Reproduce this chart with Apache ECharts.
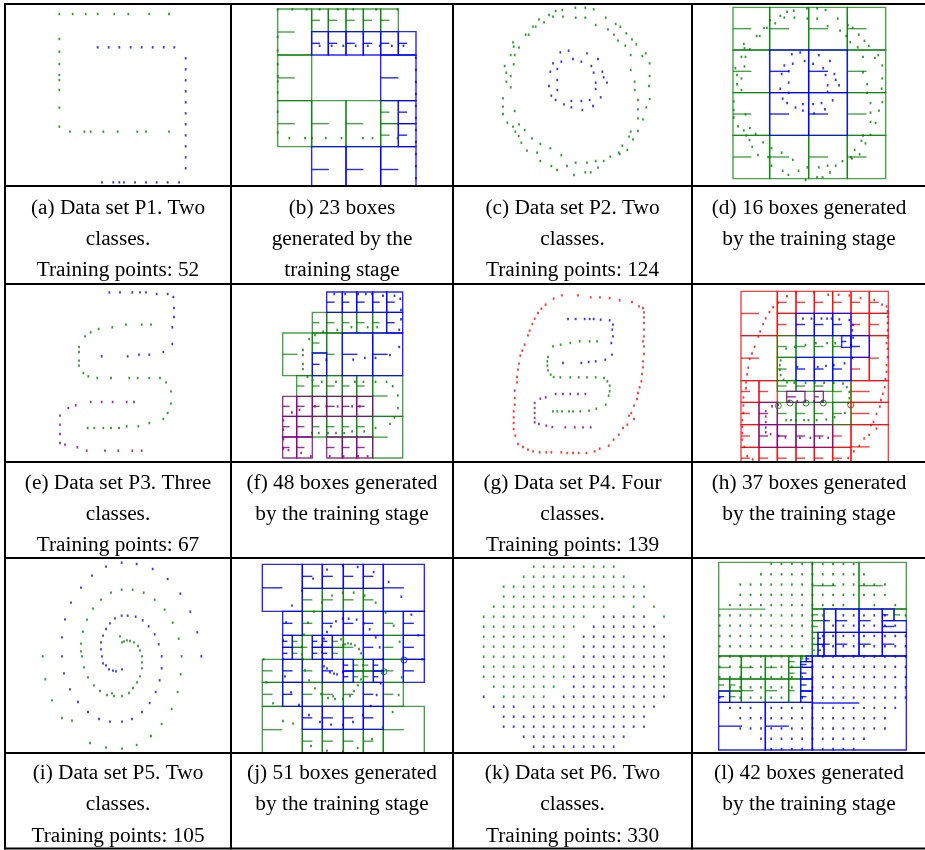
<!DOCTYPE html>
<html><head><meta charset="utf-8">
<script src="https://cdn.jsdelivr.net/npm/echarts@6.0.0/dist/echarts.min.js"></script>
<style>html,body{margin:0;padding:0;background:#fff}#c{width:925px;height:850px}</style>
</head><body><div id="c"></div><script>
// ---------- DATA (units: arbitrary plot units) ----------
// P1
const P1_green = [[178,42],[218,42],[257,42],[293,42],[343,42],[385,42],[448,42],[507,42],
 [178,117],[178,155],[178,192],[178,225],[178,240],[178,270],[178,323],[178,380],
 [210,395],[253,395],[272,395],[310,395],[353,395],[412,395],[438,395],[507,395]];
const P1_blue = [[293,142],[326,142],[358,142],[392,142],[425,142],[458,142],[491,142],[523,142],
 [557,175],[557,208],[557,241],[557,274],[557,307],[557,340],[557,373],[557,406],[557,439],[557,472],[557,505],
 [306,547],[340,547],[358,547],[372,547],[405,547],[438,547],[470,547],[503,547],[537,547]];
const B1_green = [[833,27,935,165],[935,27,985,95],[985,27,1038,95],[1038,27,1090,95],[1090,27,1142,95],[1142,27,1195,95],
 [833,165,935,302],[833,302,935,440],[935,302,1038,440],[1038,302,1142,440],[1142,302,1195,371],[1142,371,1195,440]];
const B1_blue = [[935,95,985,165],[985,95,1038,165],[1038,95,1090,165],[1090,95,1142,165],[1142,95,1195,165],[1195,95,1248,165],
 [1142,165,1248,302],[1195,302,1248,371],[1195,371,1248,440],[935,440,1038,577],[1038,440,1142,577],[1142,440,1248,577]];

// P2
const P2_green = [[337,23],[367,23],[392,28],[278,33],[298,30],[258,45],[270,50],[300,50],[338,53],[367,53],[428,53],[228,58],[243,67],[210,80],[218,80],[398,75],[458,72],[472,80],[435,88],[188,104],[197,104],[453,104],[490,100],[465,122],[507,118],[150,127],[152,140],[168,143],[487,137],[520,133],[143,165],[155,165],[503,165],[548,160],[538,168],[125,198],[152,193],[560,190],[130,218],[143,228],[503,210],[560,228],[130,245],[143,262],[515,245],[558,258],[515,270],[120,295],[525,300],[560,297],[120,320],[155,333],[525,328],[550,322],[120,342],[525,355],[540,358],[133,368],[150,380],[168,373],[157,395],[185,390],[503,395],[525,393],[167,408],[207,415],[498,410],[510,418],[175,428],[232,432],[262,445],[478,437],[493,450],[192,452],[222,458],[295,466],[467,458],[470,462],[442,470],[232,483],[398,483],[422,483],[372,488],[338,488],[265,498],[312,498],[405,503],[282,510],[383,517],[367,517],[333,525]];
const P2_blue = [[292,157],[317,152],[372,160],[330,177],[355,185],[405,177],[270,190],[295,185],[385,198],[262,215],[283,207],[392,218],[418,215],[422,232],[283,240],[398,248],[432,248],[258,258],[283,270],[398,267],[265,287],[278,300],[413,292],[325,303],[355,303],[380,300],[303,313],[325,322],[358,330],[390,318]];
const B2_green = [[810,22,920,150],[920,22,1037,150],[1037,22,1153,150],[1153,22,1268,150],[810,150,920,278],[1153,150,1268,278],
 [810,278,920,406],[1153,278,1268,406],[810,406,920,536],[920,406,1037,536],[1037,406,1153,536],[1153,406,1268,536]];
const B2_blue = [[920,150,1037,278],[1037,150,1153,278],[920,278,1037,406],[1037,278,1153,406]];

// P3
const P3_blue = [[328,28],[360,28],[397,28],[420,28],[438,28],[470,33],[503,33],[520,42],[522,75],[522,102],[517,133],[517,183],[490,207],[448,215],[417,215],[383,220],[305,220]];
const P3_green = [[378,125],[425,125],[453,125],[337,133],[296,138],[272,148],[255,160],[237,192],[237,207],[237,233],[237,248],[250,270],[265,280],[292,285],[333,285],[388,285],[413,285],[448,285],[480,285],[498,298],[513,325],[513,362],[503,390],[490,408],[448,420],[415,430],[380,430],[357,435],[333,435],[310,435],[283,435],[263,435]];
const P3_purple = [[272,357],[305,357],[338,357],[380,357],[402,357],[227,367],[205,375],[180,398],[180,425],[180,453],[180,480],[195,485],[232,493],[260,503],[315,503],[355,503],[397,503],[425,503]];
const B3_green = [[937,88,980,150],[980,88,1027,150],[1027,88,1070,150],[1070,88,1118,150],[1118,88,1160,150],[848,150,937,278],[937,150,980,210],[980,150,1027,278],
 [890,278,937,340],[937,278,980,340],[980,278,1027,340],[1027,278,1070,340],[1070,278,1118,340],[1118,278,1208,400],
 [937,400,980,462],[980,400,1027,462],[1027,400,1070,462],[1070,400,1118,462],[1118,400,1208,525]];
const B3_purple = [[848,340,890,400],[890,340,937,400],[937,340,980,400],[980,340,1027,400],[1027,340,1070,400],[1070,340,1118,400],
 [848,400,890,462],[890,400,937,462],[848,462,890,525],[890,462,937,525],[980,462,1027,525],[1027,462,1070,525],[1070,462,1118,525]];
const B3_blue = [[980,27,1027,88],[1027,27,1070,88],[1070,27,1118,88],[1118,27,1160,88],[1160,27,1208,88],[1160,88,1208,150],[937,210,980,278],[1027,150,1118,278],[1118,150,1208,278]];

// P4
const P4_red = [[297,37],[345,37],[383,43],[411,43],[440,45],[470,52],[507,57],[528,70],[540,75],[272,47],[248,65],[235,77],[225,90],[215,107],[208,123],[200,143],[195,157],[185,185],[178,203],[172,218],[168,242],[165,260],[162,282],[162,298],[155,323],[155,345],[155,365],[152,385],[152,403],[152,420],[152,438],[157,458],[165,483],[180,492],[195,500],[210,505],[230,508],[250,508],[265,508],[295,508],[313,510],[330,510],[347,510],[370,510],[395,505],[410,497],[437,488],[452,470],[467,455],[480,435],[493,425],[513,408],[498,398],[505,390],[513,368],[522,348],[525,330],[530,313],[535,295],[537,273],[540,253],[540,235],[543,213],[543,190],[540,175],[543,160],[543,140],[543,120],[543,103],[543,88]];
const P4_blue = [[315,108],[338,108],[365,108],[380,108],[392,108],[413,110],[440,112],[450,125],[448,140],[450,160],[445,180],[447,215],[427,230],[398,235],[377,237],[355,240],[300,240]];
const P4_green = [[270,190],[293,185],[322,180],[350,175],[380,175],[402,175],[255,222],[253,235],[253,248],[255,262],[263,275],[272,282],[292,283],[322,283],[347,283],[372,283],[398,283],[423,285],[433,295],[440,308],[440,325],[437,338],[428,365],[400,377],[378,383],[352,385],[330,385],[318,385],[297,385],[283,385],[270,385]];
const P4_purple = [[278,333],[300,333],[322,333],[345,333],[367,333],[248,343],[232,347],[215,360],[215,375],[215,390],[215,405],[215,418],[228,423],[250,428],[268,432],[307,433],[335,433],[360,433],[383,433]];
const B4_red = [[834,25,943,158],[943,25,999,91],[999,25,1054,91],[1054,25,1109,91],[1109,25,1164,91],[1164,25,1219,91],[1219,25,1276,91],
 [943,91,999,158],[1164,91,1219,158],[1219,91,1276,158],[834,158,943,293],[1219,158,1276,293],[1164,223,1219,293],
 [834,293,888,358],[888,293,943,358],[1164,293,1276,358],[834,358,888,425],[1164,358,1276,425],[834,425,888,493],[1109,425,1164,493],
 [834,493,888,558],[888,493,943,558],[943,493,999,558],[999,493,1054,558],[1054,493,1109,558],[1109,493,1164,558],[1164,425,1276,558]];
const B4_green = [[943,158,999,223],[999,158,1054,223],[1054,158,1109,223],[1109,158,1164,223],[943,223,999,293],
 [943,293,999,325],[999,293,1054,325],[1054,293,1109,325],[1109,293,1164,358],
 [943,358,999,425],[999,358,1054,425],[1054,358,1109,425],[1109,358,1164,425]];
const B4_purple = [[971,325,1026,358],[1054,325,1081,358],[888,358,943,425],[888,425,943,493],[943,425,999,493],[999,425,1054,493],[1054,425,1109,493]];
const B4_blue = [[999,91,1054,158],[1054,91,1109,158],[1109,91,1164,158],[1136,158,1164,193],[1164,158,1219,223],[999,223,1054,293],[1054,223,1109,293],[1109,223,1164,293]];
const C4_green = [[946,368],[981,360],[1029,360],[1081,360]];
const C4_red = [[1163,366]];

// P5
const P5_green = [[365,104],[398,104],[333,113],[431,113],[303,134],[464,134],[279,161],[494,164],[261,194],[518,203],[249,230],[536,251],[243,266],[545,304],[243,289],[246,304],[252,337],[542,358],[264,367],[533,411],[282,391],[515,462],[300,408],[485,507],[321,420],[453,543],[336,415],[342,423],[366,423],[387,414],[399,399],[411,382],[420,364],[426,340],[426,322],[426,304],[420,286],[414,273],[402,262],[390,258],[381,256],[372,259],[366,262],[360,244],[128,304],[136,373],[156,436],[186,489],[216,497],[270,564],[318,578],[366,581],[410,570]];
const P5_blue = [[365,23],[410,27],[318,35],[458,42],[276,62],[503,72],[243,98],[541,116],[213,143],[571,170],[195,193],[592,232],[186,247],[604,304],[186,304],[192,355],[210,403],[234,441],[264,471],[297,492],[330,500],[366,500],[396,492],[426,471],[449,444],[467,411],[479,376],[485,340],[485,304],[476,268],[464,238],[446,214],[428,196],[407,185],[383,182],[365,182],[345,190],[330,205],[318,222],[309,242],[303,262],[303,283],[306,304],[309,325],[318,331],[327,343],[339,347],[348,349],[366,343]];
const B5_blue = [[787,28,907,169],[907,28,967,100],[967,28,1030,100],[1030,28,1090,100],[1090,28,1150,100],[1150,28,1273,169],
 [848,169,907,241],[967,169,1030,241],[1030,169,1090,241],[1090,169,1150,241],[1210,169,1273,241],
 [848,241,877,277],[848,277,877,313],[937,241,967,277],[937,277,967,313],[967,241,997,277],[967,277,997,313],[1090,241,1150,313],[1210,241,1273,313],
 [848,313,907,382],[967,313,1030,382],[1030,313,1060,348],[1030,348,1060,382],[1120,313,1150,348],[1120,348,1150,382],[1210,313,1273,382],
 [848,382,907,454],[1090,382,1150,454],[907,454,967,523],[967,454,1030,523],[1030,454,1090,523],[1090,454,1150,523]];
const B5_green = [[907,100,967,169],[967,100,1030,169],[1030,100,1090,169],[1090,100,1150,169],[907,169,967,241],[1150,169,1210,241],
 [877,241,907,277],[877,277,907,313],[907,241,937,313],[997,241,1030,277],[997,277,1030,313],[1030,241,1090,313],[1150,241,1210,313],
 [787,313,848,382],[907,313,967,382],[1060,313,1090,348],[1060,348,1090,382],[1090,313,1120,348],[1090,348,1120,382],[1150,313,1210,382],
 [787,382,848,454],[907,382,967,454],[967,382,1030,454],[1030,382,1090,454],[1150,382,1210,454],
 [787,454,907,594],[1150,454,1273,594],[907,523,967,594],[967,523,1030,594],[1030,523,1090,594],[1090,523,1150,594]];
const C5_blue = [[1212,315]];
const C5_green = [[1152,350]];

// P6: grid rows and the x positions of each class on that row
const P6_rows = [35,65,95,125,155,185,215,245,275,305,335,365,395,425,455,485,515,545,575];
const P6_green_x = [
 [212,242,272,302,332,362,392,422,452],
 [182,212,242,272,302,332,362,392,422,452,482],
 [122,152,182,212,242,272,302,332,362,392,422,452,482,512,543],
 [122,152,182,212,242,272,302,332,362,392,422,452,482,512,543],
 [92,122,152,182,212,242,272,302,332,362,392,422,512,573],
 [62,92,122,152,182,212,242,272,302,332,362,603],
 [62,92,122,152,182,212,242,272,302,332],
 [62,92,122,152,182,212,242,272,302],
 [62,92,122,152,182,212,242,272,302],
 [62,92,122,152,182,212,242,272,302],
 [62,92,122,152,182,212,242,272,302],
 [62,92,122,152,182,212,242,272,302],
 [92,122,152,182,212,242,272],
 [122,152,182,212,242],
 [],[],[],[],[]];
const P6_blue_x = [
 [],[],[],[],[],
 [422,452,482,512,543],
 [392,422,452,482,512,543,573],
 [362,392,422,452,482,512,543,573,603],
 [362,392,422,452,482,512,543,573,603],
 [362,392,422,452,482,512,543,573,603],
 [332,362,392,422,452,482,512,543,573,603],
 [332,362,392,422,452,482,512,543,573,603],
 [332,362,392,422,452,482,512,543,573,603],
 [62,302,332,362,392,422,452,482,512,543,573,603],
 [92,122,152,212,242,272,302,332,362,392,422,452,482,512,543,573],
 [122,152,182,212,242,272,302,332,362,392,422,452,482,512,543],
 [122,152,182,212,242,272,302,332,362,392,422,452,482,512,543],
 [182,212,242,272,302,332,362,392,422,452,482],
 [212,242,272,302,332,362,392,422,452]];
const B6_green = [[767,22,1048,303],[1048,22,1188,162],[1188,22,1330,162],
 [1048,162,1083,197],[1048,197,1083,232],[1293,162,1330,197],[1048,232,1065,268],[1048,268,1065,303],
 [767,303,835,372],[835,303,907,372],[907,303,977,372],[977,303,1013,337],[977,337,1013,372],[1013,303,1030,320],
 [767,372,800,408],[800,372,835,408],[800,408,835,442],[835,372,907,442],[907,372,977,442],[977,372,1013,442]];
const B6_blue = [[1083,162,1118,232],[1118,162,1188,232],[1188,162,1258,232],[1258,162,1293,197],[1258,197,1330,232],
 [1065,232,1083,268],[1065,268,1083,303],[1083,232,1118,303],[1118,232,1188,303],[1188,232,1258,303],[1258,232,1330,303],
 [1030,303,1048,320],[1013,320,1048,337],[1013,337,1048,372],[1013,372,1048,408],[1013,408,1048,442],[767,408,800,442],
 [767,442,907,585],[907,442,1048,585],[1048,303,1330,585]];

const CAPTIONS = [
 ['(a) Data set P1. Two','classes.','Training points: 52'],
 ['(b) 23 boxes','generated by the','training stage'],
 ['(c) Data set P2. Two','classes.','Training points: 124'],
 ['(d) 16 boxes generated','by the training stage'],
 ['(e) Data set P3. Three','classes.','Training points: 67'],
 ['(f) 48 boxes generated','by the training stage'],
 ['(g) Data set P4. Four','classes.','Training points: 139'],
 ['(h) 37 boxes generated','by the training stage'],
 ['(i) Data set P5. Two','classes.','Training points: 105'],
 ['(j) 51 boxes generated','by the training stage'],
 ['(k) Data set P6. Two','classes.','Training points: 330'],
 ['(l) 42 boxes generated','by the training stage']];

// ---------- LAYOUT / STYLE ----------
function gridPoints(rows, xs){ const out=[]; rows.forEach((y,i)=>xs[i].forEach(x=>out.push([x,y]))); return out; }
const P6_green = gridPoints(P6_rows, P6_green_x);
const P6_blue = gridPoints(P6_rows, P6_blue_x);

const PT = {g:'#008000', b:'#0000ff', r:'#ff0000', p:'#800080'};
const BX = {g:'rgba(0,128,0,0.72)', b:'rgba(0,0,255,0.85)', r:'rgba(255,0,0,0.75)', p:'rgba(128,0,128,0.8)'};

const PANELS = [
 {cell:[5,3,231,186], org:[0,0], pts:[['g',P1_green],['b',P1_blue]]},
 {cell:[231,3,453,186], org:[0,0], boxes:[['g',B1_green],['b',B1_blue]], pts:[['g',P1_green],['b',P1_blue]], map:[1.094,638.3,1.094,-17.9]},
 {cell:[453,3,692,186], org:[463,0], pts:[['g',P2_green],['b',P2_blue]]},
 {cell:[692,3,924,186], org:[463,0], boxes:[['g',B2_green],['b',B2_blue]], pts:[['g',P2_green],['b',P2_blue]], map:[1.0136,690.4,1.026,1.4]},
 {cell:[5,284,231,462], org:[0,283], pts:[['b',P3_blue],['g',P3_green],['p',P3_purple]]},
 {cell:[231,284,453,462], org:[0,283], boxes:[['g',B3_green],['p',B3_purple],['b',B3_blue]], pts:[['b',P3_blue],['g',P3_green],['p',P3_purple]], map:[1.032,664.2,1.025,4.3]},
 {cell:[453,284,692,462], org:[463,283], pts:[['r',P4_red],['b',P4_blue],['g',P4_green],['p',P4_purple]]},
 {cell:[692,284,924,462], org:[463,283], boxes:[['r',B4_red],['g',B4_green],['p',B4_purple],['b',B4_blue]], pts:[['r',P4_red],['b',P4_blue],['g',P4_green],['p',P4_purple]], map:[1.115,668.5,1.1,-12], circles:[['g',C4_green],['r',C4_red]]},
 {cell:[5,558,231,753], org:[0,555], pts:[['g',P5_green],['b',P5_blue]]},
 {cell:[231,558,453,753], org:[0,555], boxes:[['g',B5_green],['b',B5_blue]], pts:[['g',P5_green],['b',P5_blue]], map:[1,663,1,9], circles:[['b',C5_blue],['g',C5_green]]},
 {cell:[453,558,692,753], org:[463,555], pts:[['g',P6_green],['b',P6_blue]]},
 {cell:[692,558,924,753], org:[463,555], boxes:[['g',B6_green],['b',B6_blue]], pts:[['g',P6_green],['b',P6_blue]], map:[1.031,706,1.028,-9]}
];

const option = {animation:false, backgroundColor:'#fff', grid:[], xAxis:[], yAxis:[], series:[], graphic:[]};

function addAxes(gi, xr, yr){
  option.xAxis.push({type:'value', gridIndex:gi, min:xr[0], max:xr[1], show:false, splitLine:{show:false}});
  option.yAxis.push({type:'value', gridIndex:gi, min:yr[0], max:yr[1], inverse:true, show:false, splitLine:{show:false}});
  return option.xAxis.length-1;
}
function boxRender(color){
  return function(params, api){
    const a = api.coord([api.value(0), api.value(1)]);
    const b = api.coord([api.value(2), api.value(3)]);
    const x = Math.min(a[0],b[0]), y = Math.min(a[1],b[1]);
    const w = Math.abs(b[0]-a[0]), h = Math.abs(b[1]-a[1]);
    return {type:'group', children:[
      {type:'rect', shape:{x:x, y:y, width:w, height:h}, style:{fill:'none', stroke:color, lineWidth:1.4}},
      {type:'line', shape:{x1:x, y1:y+h/2, x2:x+w/2, y2:y+h/2}, style:{stroke:color, lineWidth:1.4}}
    ]};
  };
}

PANELS.forEach((p, gi) => {
  const [x0,y0,x1,y1] = p.cell;
  option.grid.push({left:x0, top:y0, width:x1-x0, height:y1-y0, outerBoundsMode:'none', containLabel:false, show:false});
  const xr = [(x0-p.org[0])*3, (x1-p.org[0])*3];
  const yr = [(y0-p.org[1])*3, (y1-p.org[1])*3];
  const main = addAxes(gi, xr, yr);
  let ptAx = main;
  if (p.map) {
    const [sx,ax,sy,ay] = p.map;
    ptAx = addAxes(gi, [(xr[0]-ax)/sx, (xr[1]-ax)/sx], [(yr[0]-ay)/sy, (yr[1]-ay)/sy]);
  }
  (p.boxes||[]).forEach(([c, data]) => {
    option.series.push({type:'custom', xAxisIndex:main, yAxisIndex:main, data:data, renderItem:boxRender(BX[c]),
      encode:{x:[0,2], y:[1,3]}, clip:true, silent:true, z:2});
  });
  p.pts.forEach(([c, data]) => {
    option.series.push({type:'scatter', xAxisIndex:ptAx, yAxisIndex:ptAx, data:data, symbol:'rect', symbolSize:[1.8,2.4],
      itemStyle:{color:PT[c]}, clip:true, silent:true, z:3, emphasis:{disabled:true}});
  });
  (p.circles||[]).forEach(([c, data]) => {
    option.series.push({type:'scatter', xAxisIndex:main, yAxisIndex:main, data:data, symbol:'circle', symbolSize:6,
      itemStyle:{color:'rgba(0,0,0,0)', borderColor:PT[c], borderWidth:1}, clip:true, silent:true, z:4});
  });
});

// table rules
const VX = [5,231,453,692];
const HY = [4,186,284,462,558,753,848.5];
VX.forEach(x => option.graphic.push({type:'line', z:100, shape:{x1:x, y1:3, x2:x, y2:849.5}, style:{stroke:'#000', lineWidth:2}}));
HY.forEach(y => option.graphic.push({type:'line', z:100, shape:{x1:4, y1:y, x2:925, y2:y}, style:{stroke:'#000', lineWidth:2}}));

// captions
const COLC = [118, 342, 572.5, 809];
const ROWY = [208, 483, 773.5];
CAPTIONS.forEach((lines, i) => {
  const cx = COLC[i%4], ty = ROWY[Math.floor(i/4)];
  lines.forEach((t, k) => option.graphic.push({type:'text', z:100, style:{text:t, x:cx, y:ty + k*31.3,
    font:'21.3px "Liberation Serif", "Times New Roman", serif', fill:'#000', align:'center', verticalAlign:'middle'}}));
});

const chart = echarts.init(document.getElementById('c'), null, {renderer:'canvas'});
chart.setOption(option);
</script></body></html>
